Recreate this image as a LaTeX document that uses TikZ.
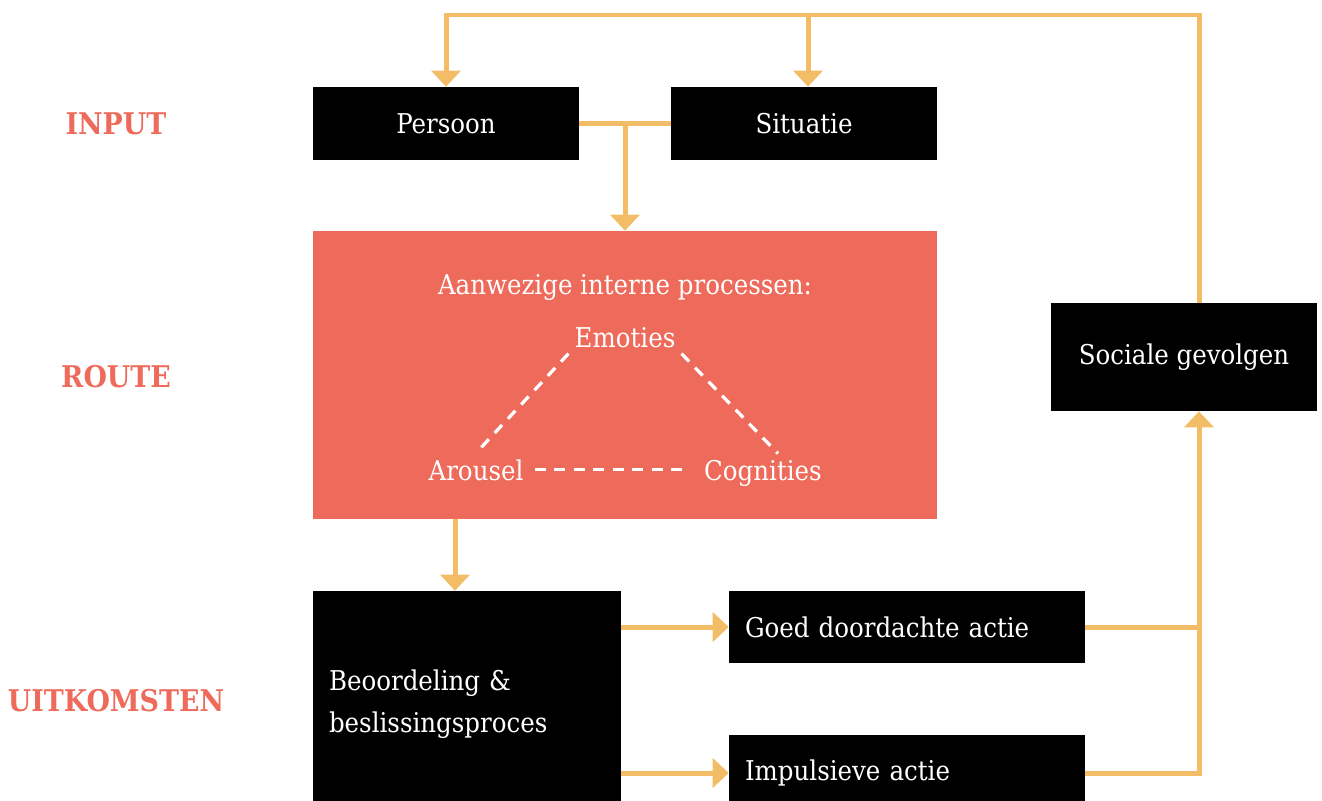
\documentclass[tikz,border=0pt]{standalone}
\usepackage{fontspec}
\setmainfont{DejaVu Serif Condensed}
\usetikzlibrary{arrows.meta}
\definecolor{flowgold}{HTML}{F3BC66}
\definecolor{routered}{HTML}{EE6A5B}

\begin{document}
\begin{tikzpicture}[x=0.02cm,y=-0.02cm,
    font=\fontsize{15.5}{24}\selectfont,
    blackbox/.style={fill=black,text=white,inner sep=0pt},
    rowlabel/.style={text=routered,font=\fontsize{17}{20}\selectfont\bfseries},
    flow/.style={draw=flowgold,line width=0.1cm},
    flowtip/.style={-{Triangle[width=0.58cm,length=0.32cm]}},
    triline/.style={draw=white,line width=0.065cm,dash pattern=on 0.22cm off 0.17cm}]
\clip (0,0) rectangle (1322,801);

% row labels
\node[rowlabel] (input)      at (116,124) {INPUT};
\node[rowlabel] (routelabel) at (116,377) {ROUTE};
\node[rowlabel] (uitkomsten) at (116,701) {UITKOMSTEN};

% input
\node[blackbox,minimum width=5.32cm,minimum height=1.46cm] (persoon)  at (446,123.5) {Persoon};
\node[blackbox,minimum width=5.32cm,minimum height=1.46cm] (situatie) at (804,123.5) {Situatie};

% route
\node[fill=routered,minimum width=12.48cm,minimum height=5.76cm,inner sep=0pt] (route) at (625,375) {};
\node[text=white,anchor=base] (aanwezig)  at (625,294) {Aanwezige interne processen:};
\node[text=white,anchor=base] (emoties)   at (625,347) {Emoties};
\node[text=white,anchor=base] (arousel)   at (476,480) {Arousel};
\node[text=white,anchor=base] (cognities) at (763,480) {Cognities};
\draw[triline] (emoties.south west) -- (arousel.north);
\draw[triline] (emoties.south east) -- ([xshift=0.3cm]cognities.north);
\draw[triline,shorten <=0.1cm,shorten >=0.2cm]
    (arousel.east) -- (arousel.east -| cognities.west);

% uitkomsten
\node[blackbox,minimum width=6.16cm,minimum height=4.52cm,text width=5.52cm,
      inner xsep=0.32cm,align=left] (beoordeling) at (467,704)
    {Beoordeling \&\\beslissingsproces};
\node[blackbox,minimum width=7.12cm,minimum height=1.44cm,text width=6.48cm,
      inner xsep=0.32cm,align=left] (goed) at (907,627) {Goed doordachte actie};
\node[blackbox,minimum width=7.12cm,minimum height=1.52cm,text width=6.48cm,
      inner xsep=0.32cm,align=left] (impulsief) at (907,773) {Impulsieve actie};
\node[blackbox,minimum width=5.32cm,minimum height=2.16cm] (sociaal) at (1184,357)
    {Sociale gevolgen};

% connectors
\coordinate (fb)  at (1199,15);
\coordinate (sit) at (808,15);
\draw[flow] (persoon.east) -- (situatie.west);
\draw[flow,flowtip] (route.north |- persoon.east) -- (route.north);
\draw[flow,flowtip] (sociaal.north -| fb) -- (fb) -| (persoon.north);
\draw[flow,flowtip] (sit) -- (sit |- situatie.north);
\draw[flow,flowtip] (route.south -| 455,0) -- (beoordeling.north -| 455,0);
\draw[flow,flowtip] (beoordeling.east |- goed.west) -- (goed.west);
\draw[flow,flowtip] (beoordeling.east |- impulsief.west) -- (impulsief.west);
\draw[flow] (goed.east) -- (goed.east -| fb);
\draw[flow,flowtip] (impulsief.east) -| (sociaal.south -| fb);
\end{tikzpicture}
\end{document}
